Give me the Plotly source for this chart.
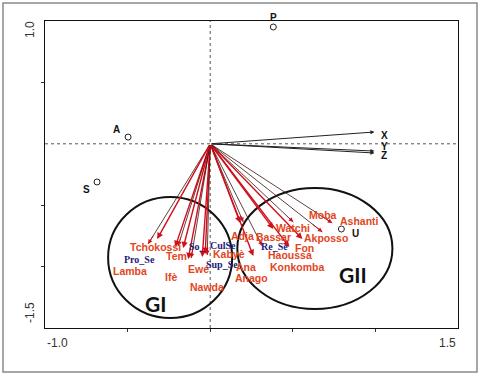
import plotly.graph_objects as go

# ---------------- data ----------------
# variable vectors (red arrows) : tip coordinates
vec_x = [-0.376, -0.321, -0.212, -0.194, -0.164, -0.133, -0.115, -0.048, -0.030, -0.018,
         0.182, 0.200, 0.261, 0.315, 0.382, 0.479, 0.503, 0.558, 0.679, 0.739]
vec_y = [-0.816, -0.775, -0.840, -0.832, -0.849, -0.938, -0.930, -0.922, -0.897, -0.906,
         -0.645, -0.637, -0.914, -0.832, -0.694, -0.840, -0.637, -0.775, -0.718, -0.645]
vec_kind = ["k", "r", "r", "k", "r", "r", "k", "r", "r", "k",
            "r", "k", "r", "k", "r", "r", "k", "r", "k", "k"]

# explanatory vectors X, Y, Z (black arrows)
xyz_names = ["X", "Y", "Z"]
xyz_x = [0.994, 0.994, 0.994]
xyz_y = [0.096, -0.059, -0.075]

# supplementary points (open circles)
pt_names = ["P", "A", "S", "U"]
pt_x = [0.382, -0.497, -0.685, 0.794]
pt_y = [0.951, 0.055, -0.311, -0.694]

# red labels (ethnic groups)
grp_names = ["Tchokossi", "Tem", "Lamba", "Ifè", "Ewé", "Nawda", "Kabyè", "Ana", "Anago",
             "Adja", "Bassar", "Fon", "Haoussa", "Konkomba", "Watchi", "Akposso", "Moba", "Ashanti"]
grp_x = [-0.497, -0.279, -0.600, -0.285, -0.145, -0.133, 0.006, 0.145, 0.139,
         0.115, 0.267, 0.503, 0.339, 0.352, 0.388, 0.558, 0.588, 0.776]
grp_y = [-0.840, -0.914, -1.036, -1.085, -1.020, -1.166, -0.895, -1.004, -1.093,
         -0.751, -0.759, -0.849, -0.906, -1.003, -0.686, -0.767, -0.580, -0.629]

# blue labels (variables)
var_names = ["Pro_Se", "So_", "CulSe", "Sup_Se", "Re_Se"]
var_x = [-0.533, -0.139, -0.012, -0.036, 0.297]
var_y = [-0.946, -0.840, -0.826, -0.979, -0.840]

# group ellipses  (x0, x1, y0, y1)
grp_circles = {"GI": (-0.618, 0.133, -1.419, -0.433),
               "GII": (0.164, 1.103, -1.345, -0.359)}
grp_label_pos = {"GI": (-0.333, -1.297), "GII": (0.867, -1.068)}

x_range = [-1.0, 1.5]
y_range = [-1.5, 1.0]
# ------------------------------------------------------------

RED = "#e2461d"
BLUE = "#1c1c7a"
ARR_RED = "#d0101a"

fig = go.Figure()
ann = []

# supplementary points
fig.add_trace(go.Scatter(x=pt_x, y=pt_y, mode="markers",
                         marker=dict(symbol="circle-open", size=6, color="#222",
                                     line=dict(width=1)),
                         hoverinfo="skip", showlegend=False, cliponaxis=False))
pt_off = {"A": (-0.035, 0.065, "right"),
          "S": (-0.03, -0.065, "right"), "U": (0.05, -0.035, "left")}
for n, x, y in zip(pt_names, pt_x, pt_y):
    if n == "P":
        ann.append(dict(x=x, y=1.012, yref="paper", text=n, showarrow=False, xanchor="center",
                        yanchor="middle",
                        font=dict(family="Liberation Sans", size=10, color="#111", weight="bold")))
        continue
    dx, dy, xa = pt_off[n]
    ann.append(dict(x=x + dx, y=y + dy, text=n, showarrow=False, xanchor=xa,
                    font=dict(family="Liberation Sans", size=10, color="#111", weight="bold")))

# X, Y, Z arrows
for n, x, y in zip(xyz_names, xyz_x, xyz_y):
    ann.append(dict(x=x, y=y, ax=0, ay=0, axref="x", ayref="y", xref="x", yref="y",
                    showarrow=True, arrowhead=2, arrowsize=0.8, arrowwidth=1,
                    arrowcolor="#222", standoff=0, text=""))
lab_dy = {"X": -0.03, "Y": 0.035, "Z": -0.02}
for n, x, y in zip(xyz_names, xyz_x, xyz_y):
    ann.append(dict(x=x + 0.03, y=y + lab_dy[n], text=n, showarrow=False, xanchor="left",
                    font=dict(family="Liberation Sans", size=10, color="#111", weight="bold")))

# variable arrows
for x, y, k in zip(vec_x, vec_y, vec_kind):
    if k == "r":
        ann.append(dict(x=x, y=y, ax=0, ay=0, axref="x", ayref="y",
                        showarrow=True, arrowhead=2, arrowsize=0.9, arrowwidth=1.4,
                        arrowcolor=ARR_RED, standoff=0, text=""))
    else:
        ann.append(dict(x=x, y=y, ax=0, ay=0, axref="x", ayref="y",
                        showarrow=True, arrowhead=0, arrowwidth=0.8,
                        arrowcolor="#3a1010", standoff=0, text=""))
        ann.append(dict(x=x, y=y, ax=x * 0.9, ay=y * 0.9, axref="x", ayref="y",
                        showarrow=True, arrowhead=2, arrowsize=0.9, arrowwidth=1,
                        arrowcolor=ARR_RED, standoff=0, text=""))

# red labels
for n, x, y in zip(grp_names, grp_x, grp_y):
    ann.append(dict(x=x, y=y, text=n, showarrow=False, xanchor="left", yanchor="middle",
                    font=dict(family="Liberation Sans", size=10.5, color=RED, weight="bold")))
# blue labels
for n, x, y in zip(var_names, var_x, var_y):
    ann.append(dict(x=x, y=y, text=n, showarrow=False, xanchor="left", yanchor="middle",
                    font=dict(family="Liberation Serif", size=10, color=BLUE, weight="bold")))

# group labels
for n, (x, y) in grp_label_pos.items():
    ann.append(dict(x=x, y=y, text=n, showarrow=False, xanchor="center", yanchor="middle",
                    font=dict(family="Lato", size=21, color="#111", weight="bold")))

# end tick labels
ann += [
    dict(x=0, y=-0.02, xref="paper", yref="paper", text="-1.0", showarrow=False,
         xanchor="left", yanchor="top", font=dict(family="Liberation Sans", size=12, color="#333")),
    dict(x=1, y=-0.02, xref="paper", yref="paper", text="1.5", showarrow=False,
         xanchor="right", yanchor="top", font=dict(family="Liberation Sans", size=12, color="#333")),
    dict(x=-0.0363, y=0.9707, xref="paper", yref="paper", text="1.0", showarrow=False,
         textangle=-90, xanchor="center", yanchor="middle",
         font=dict(family="Liberation Sans", size=12, color="#333")),
    dict(x=-0.0363, y=0.0489, xref="paper", yref="paper", text="-1.5", showarrow=False,
         textangle=-90, xanchor="center", yanchor="middle",
         font=dict(family="Liberation Sans", size=12, color="#333")),
]

shapes = []
for n, (x0, x1, y0, y1) in grp_circles.items():
    shapes.append(dict(type="circle", xref="x", yref="y", x0=x0, x1=x1, y0=y0, y1=y1,
                       line=dict(color="#111", width=2), layer="below"))
# dotted axes through origin
shapes.append(dict(type="line", xref="x", yref="paper", x0=0, x1=0, y0=0, y1=1,
                   line=dict(color="#555", width=1, dash="dot"), layer="below"))
shapes.append(dict(type="line", xref="paper", yref="y", x0=0, x1=1, y0=0, y1=0,
                   line=dict(color="#555", width=1, dash="dot"), layer="below"))
# outer grey frame
shapes.append(dict(type="rect", xref="paper", yref="paper", x0=-0.1017, x1=1.046,
                   y0=-0.1433, y1=1.0586, line=dict(color="#8a8a8a", width=1.5)))

fig.update_layout(
    width=480, height=377,
    margin=dict(l=45, r=22, t=21, b=49),
    paper_bgcolor="white", plot_bgcolor="white",
    showlegend=False,
    annotations=ann, shapes=shapes,
    xaxis=dict(range=x_range, showgrid=False, zeroline=False, showline=True, mirror=True,
               linecolor="#111", linewidth=1, ticks="outside", ticklen=3, tickcolor="#333",
               tickvals=[-0.5, 0, 0.5, 1.0], showticklabels=False, fixedrange=True),
    yaxis=dict(range=y_range, showgrid=False, zeroline=False, showline=True, mirror=True,
               linecolor="#111", linewidth=1, ticks="outside", ticklen=3, tickcolor="#333",
               tickvals=[0.5, -0.5, -1.0], showticklabels=False, fixedrange=True),
)

fig.write_html("out.html", config={"displayModeBar": False},
               post_script="document.body.style.margin='0';document.body.style.padding='0';")
